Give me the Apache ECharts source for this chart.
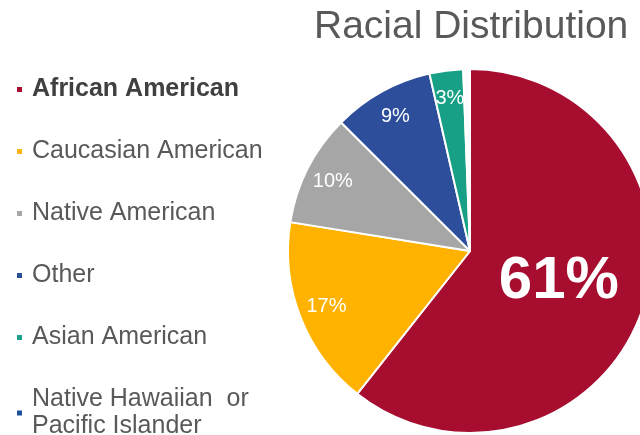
<!DOCTYPE html>
<html>
<head>
<meta charset="utf-8">
<script src="https://cdn.jsdelivr.net/npm/echarts@6/dist/echarts.min.js"></script>
<style>
  html, body { margin: 0; padding: 0; background: #fff; }
  #main { width: 640px; height: 435px; }
</style>
</head>
<body>
<div id="main"></div>
<script>
// values
var categories = ['African American', 'Caucasian American', 'Native American', 'Other', 'Asian American', 'Native Hawaiian or Pacific Islander'];
var shares = [61, 17, 10, 9, 3, 0.6];
var sliceColors = ['#A60D2F', '#FFB300', '#A6A6A6', '#2C4E9B', '#17A085', '#ffffff'];
var markerColors = ['#A60D2F', '#FDB515', '#A6A6A6', '#2A4F9A', '#1BA089', '#1F4E9A'];

var myChart = echarts.init(document.getElementById('main'));

var pieData = categories.map(function (name, i) {
    return {
        name: name,
        value: shares[i],
        itemStyle: { color: sliceColors[i] },
        // only the big slice gets its label here
        label: { show: i === 0 }
    };
});

// transparent ring on top, just to carry the small labels further out
var ringData = categories.map(function (name, i) {
    return {
        name: name,
        value: shares[i],
        label: { show: i > 0 && shares[i] >= 1 }
    };
});

var option = {
    animation: false,
    title: {
        text: 'Racial Distribution',
        left: 309,
        top: 3,
        textStyle: {
            fontFamily: 'Liberation Sans',
            fontSize: 39,
            fontWeight: 'normal',
            color: '#595959'
        }
    },
    legend: {
        orient: 'vertical',
        left: 15,
        top: 76,
        height: 400,
        padding: 0,
        icon: 'rect',
        itemWidth: 7,
        itemHeight: 7,
        itemGap: 35,
        selectedMode: false,
        data: categories.map(function (name, i) {
            return { name: name, itemStyle: { color: markerColors[i] } };
        }),
        formatter: function (name) {
            if (name === categories[0]) return '{b|' + name + '}';
            if (name === categories[5]) return 'Native Hawaiian  or\nPacific Islander';
            return name;
        },
        textStyle: {
            fontFamily: 'Liberation Sans',
            fontSize: 25,
            lineHeight: 27,
            color: '#595959',
            padding: [0, 0, 0, 4],
            rich: {
                b: {
                    fontFamily: 'Liberation Sans',
                    fontSize: 25,
                    fontWeight: 'bold',
                    color: '#404040'
                }
            }
        }
    },
    series: [
        {
            name: 'main',
            type: 'pie',
            center: [470, 251],
            radius: [0, 182],
            startAngle: 90,
            clockwise: true,
            avoidLabelOverlap: false,
            silent: true,
            itemStyle: {
                borderColor: '#fff',
                borderWidth: 2
            },
            label: {
                position: 'inside',
                formatter: function (p) { return p.value + '%'; },
                color: '#fff',
                fontFamily: 'Liberation Sans',
                fontSize: 60,
                fontWeight: 'bold'
            },
            labelLine: { show: false },
            data: pieData
        },
        {
            name: 'labels',
            type: 'pie',
            center: [470, 251],
            radius: [120, 182],
            startAngle: 90,
            clockwise: true,
            avoidLabelOverlap: false,
            silent: true,
            itemStyle: {
                color: 'rgba(0,0,0,0)',
                borderWidth: 0
            },
            label: {
                position: 'inside',
                formatter: function (p) { return p.value + '%'; },
                color: '#fff',
                fontFamily: 'Liberation Sans',
                fontSize: 20
            },
            labelLine: { show: false },
            data: ringData
        }
    ]
};
myChart.setOption(option);
</script>
</body>
</html>
